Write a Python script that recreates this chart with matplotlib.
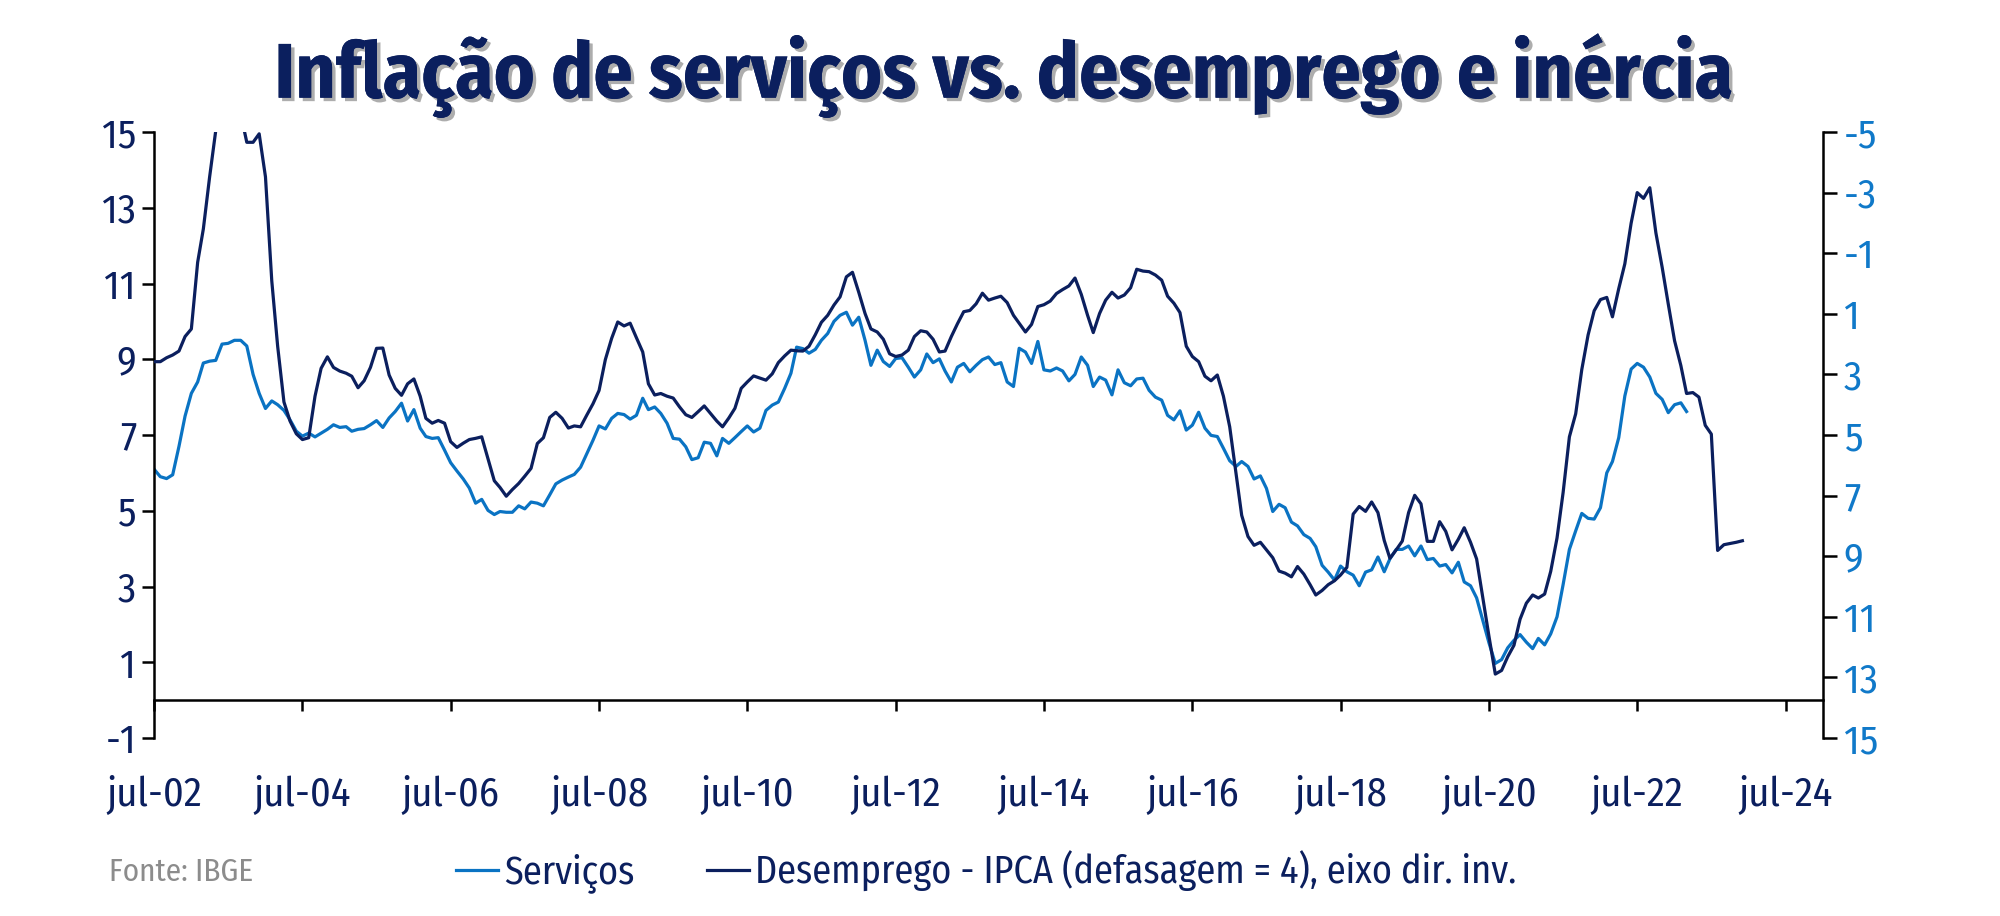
from matplotlib import pyplot as plt
from matplotlib import patheffects, font_manager
from matplotlib.lines import Line2D
import pandas as pd

available = {f.name for f in font_manager.fontManager.ttflist}
font = next((f for f in ['Fira Sans Condensed', 'Roboto Condensed', 'Barlow Semi Condensed',
                         'Asap Condensed'] if f in available), 'DejaVu Sans')
plt.rcParams['font.family'] = [font, 'DejaVu Sans']
plt.rcParams['axes.unicode_minus'] = False

NAVY = '#0b1f5e'
BLUE = '#0a73c3'
BLUE_TXT = '#1079c9'

title = 'Inflação de serviços vs. desemprego e inércia'
label_serv = 'Serviços'
label_desemp = 'Desemprego - IPCA (defasagem = 4), eixo dir. inv.'
fonte = 'Fonte: IBGE'

# mensal, a partir de jul-02
servicos = [
    6.10, 5.90, 5.85, 5.95, 6.70, 7.50, 8.10, 8.40, 8.90, 8.95, 8.97, 9.40,
    9.42, 9.50, 9.50, 9.35, 8.60, 8.10, 7.70, 7.90, 7.80, 7.65, 7.40, 7.10,
    6.97, 7.05, 6.95, 7.05, 7.15, 7.27, 7.20, 7.22, 7.10, 7.15, 7.17, 7.27,
    7.38, 7.20, 7.45, 7.62, 7.84, 7.37, 7.67, 7.18, 6.96, 6.91, 6.93, 6.60,
    6.27, 6.05, 5.84, 5.60, 5.20, 5.30, 5.01, 4.90, 4.98, 4.96, 4.96, 5.13,
    5.05, 5.23, 5.20, 5.13, 5.42, 5.71, 5.81, 5.89, 5.96, 6.15, 6.50, 6.86,
    7.24, 7.16, 7.44, 7.57, 7.54, 7.42, 7.52, 7.97, 7.67, 7.74, 7.57, 7.31,
    6.91, 6.89, 6.69, 6.35, 6.40, 6.81, 6.78, 6.45, 6.91, 6.78, 6.93, 7.09,
    7.24, 7.08, 7.18, 7.65, 7.79, 7.87, 8.23, 8.63, 9.32, 9.28, 9.16, 9.26,
    9.50, 9.68, 10.00, 10.16, 10.24, 9.90, 10.11, 9.50, 8.84, 9.24, 8.94, 8.81,
    9.02, 9.04, 8.79, 8.53, 8.72, 9.14, 8.91, 9.01, 8.69, 8.40, 8.79, 8.89,
    8.67, 8.84, 8.99, 9.06, 8.86, 8.91, 8.40, 8.28, 9.29, 9.19, 8.89, 9.47,
    8.72, 8.69, 8.77, 8.69, 8.43, 8.60, 9.06, 8.84, 8.28, 8.53, 8.45, 8.06,
    8.72, 8.38, 8.30, 8.48, 8.50, 8.18, 8.00, 7.92, 7.52, 7.40, 7.64, 7.13,
    7.26, 7.60, 7.18, 6.99, 6.96, 6.65, 6.32, 6.17, 6.30, 6.17, 5.84, 5.92,
    5.59, 4.98, 5.17, 5.08, 4.70, 4.60, 4.37, 4.27, 4.05, 3.56, 3.38, 3.17,
    3.54, 3.39, 3.30, 3.02, 3.38, 3.44, 3.78, 3.39, 3.73, 3.98, 3.98, 4.07,
    3.81, 4.07, 3.71, 3.74, 3.54, 3.58, 3.36, 3.64, 3.12, 3.02, 2.70, 2.09,
    1.51, 0.97, 1.07, 1.38, 1.58, 1.73, 1.53, 1.36, 1.63, 1.46, 1.75, 2.20,
    3.05, 3.98, 4.47, 4.93, 4.80, 4.78, 5.08, 6.00, 6.30, 6.93, 8.03, 8.74,
    8.89, 8.79, 8.53, 8.10, 7.94, 7.59, 7.80, 7.85, 7.62,
]

# eixo direito (invertido)
desemprego = [
    2.58, 2.58, 2.45, 2.36, 2.23, 1.75, 1.50, -0.70, -1.80, -3.52, -5.04, -6.30,
    -7.20, -7.00, -5.60, -4.66, -4.66, -4.94, -3.52, -0.09, 2.07, 3.91, 4.54, 4.96,
    5.15, 5.09, 3.72, 2.80, 2.42, 2.77, 2.89, 2.96, 3.06, 3.44, 3.21, 2.77,
    2.14, 2.13, 3.02, 3.46, 3.69, 3.31, 3.15, 3.72, 4.45, 4.61, 4.52, 4.61,
    5.22, 5.41, 5.27, 5.15, 5.11, 5.06, 5.79, 6.51, 6.73, 7.02, 6.80, 6.60,
    6.36, 6.10, 5.28, 5.09, 4.42, 4.25, 4.45, 4.77, 4.70, 4.73, 4.35, 3.97,
    3.53, 2.51, 1.81, 1.27, 1.40, 1.31, 1.79, 2.26, 3.31, 3.68, 3.63, 3.72,
    3.78, 4.07, 4.33, 4.42, 4.23, 4.04, 4.29, 4.54, 4.73, 4.44, 4.12, 3.46,
    3.25, 3.05, 3.12, 3.19, 2.98, 2.61, 2.39, 2.20, 2.22, 2.23, 2.07, 1.69,
    1.28, 1.05, 0.71, 0.44, -0.22, -0.37, 0.29, 0.99, 1.50, 1.60, 1.84, 2.32,
    2.41, 2.36, 2.20, 1.75, 1.56, 1.60, 1.84, 2.26, 2.23, 1.75, 1.33, 0.93,
    0.89, 0.67, 0.32, 0.55, 0.48, 0.42, 0.63, 1.05, 1.31, 1.60, 1.35, 0.76,
    0.70, 0.58, 0.33, 0.20, 0.08, -0.18, 0.36, 1.05, 1.62, 0.99, 0.55, 0.29,
    0.48, 0.38, 0.14, -0.47, -0.41, -0.39, -0.28, -0.11, 0.42, 0.65, 0.96, 2.07,
    2.41, 2.58, 3.06, 3.21, 3.02, 3.72, 4.73, 6.26, 7.65, 8.35, 8.64, 8.54,
    8.79, 9.05, 9.49, 9.56, 9.68, 9.34, 9.59, 9.94, 10.28, 10.13, 9.94, 9.81,
    9.62, 9.37, 7.61, 7.36, 7.52, 7.21, 7.56, 8.48, 9.07, 8.79, 8.50, 7.56,
    6.99, 7.27, 8.51, 8.51, 7.86, 8.18, 8.79, 8.44, 8.06, 8.54, 9.09, 10.38,
    11.65, 12.89, 12.77, 12.32, 11.94, 11.08, 10.55, 10.28, 10.38, 10.25, 9.50, 8.40,
    6.90, 5.06, 4.30, 2.84, 1.70, 0.90, 0.53, 0.46, 1.10, 0.17, -0.65, -1.99,
    -3.00, -2.81, -3.16, -1.67, -0.53, 0.68, 1.89, 2.71, 3.63, 3.60, 3.75, 4.68,
    4.97, 8.81, 8.62, 8.58, 8.54, 8.49,
]

tick_years = list(range(2002, 2025, 2))
tick_labels = [f'jul-{y % 100:02d}' for y in tick_years]

dates_serv = pd.date_range('2002-07-01', periods=len(servicos), freq='MS')
dates_desemp = pd.date_range('2002-07-01', periods=len(desemprego), freq='MS')

fig = plt.figure(figsize=(20, 9.16), dpi=100)
ax = fig.add_axes([0.077, 0.1943, 0.8345, 0.6616])
ax2 = ax.twinx()

ax.plot(dates_serv, servicos, color=BLUE, lw=2.3)
ax2.plot(dates_desemp, desemprego, color=NAVY, lw=2.3)

ax.set_xlim(pd.Timestamp('2002-07-01'), pd.Timestamp('2025-01-01'))
ax.set_xticks([pd.Timestamp(f'{y}-07-01') for y in tick_years])
ax.set_xticklabels(tick_labels)

ax.set_ylim(-1, 15)
ax.set_yticks(range(-1, 16, 2))
ax2.set_ylim(15, -5)
ax2.set_yticks(range(-5, 16, 2))

ax.spines['bottom'].set_position(('data', 0))
for s in ['top', 'right']:
    ax.spines[s].set_visible(False)
for s in ['top', 'left', 'bottom']:
    ax2.spines[s].set_visible(False)
for s in ['left', 'bottom']:
    ax.spines[s].set_linewidth(1.8)
ax2.spines['right'].set_linewidth(1.8)

ax.tick_params(axis='x', direction='out', length=8, width=1.8, pad=46,
               labelsize=29, labelcolor=NAVY)
ax.tick_params(axis='y', direction='out', length=9, width=1.8, pad=4,
               labelsize=29, labelcolor=NAVY)
ax2.tick_params(axis='y', direction='out', length=10, width=1.8, pad=5,
                labelsize=29, labelcolor=BLUE_TXT)

t = fig.text(0.502, 0.918, title, ha='center', va='center', fontsize=58,
             fontweight='bold', color=NAVY,
             path_effects=[patheffects.withSimplePatchShadow(offset=(2.5, -2.5),
                                                            shadow_rgbFace='#777777', alpha=0.6),
                           patheffects.Normal()])
fig.canvas.draw()
w = t.get_window_extent().width
t.set_fontsize(min(60, 58 * 1458 / w))

fig.text(0.0545, 0.048, fonte, color='#8c8c8c', fontsize=22.5, va='center')

handles = [Line2D([], [], color=BLUE, lw=2.3), Line2D([], [], color=NAVY, lw=2.3)]
fig.legend(handles, [label_serv, label_desemp], loc='center', bbox_to_anchor=(0.493, 0.048),
           ncol=2, frameon=False, fontsize=27.5, handlelength=1.1, handletextpad=0.15,
           columnspacing=1.9, labelcolor=NAVY)

fig.savefig('out.png', dpi=100)
